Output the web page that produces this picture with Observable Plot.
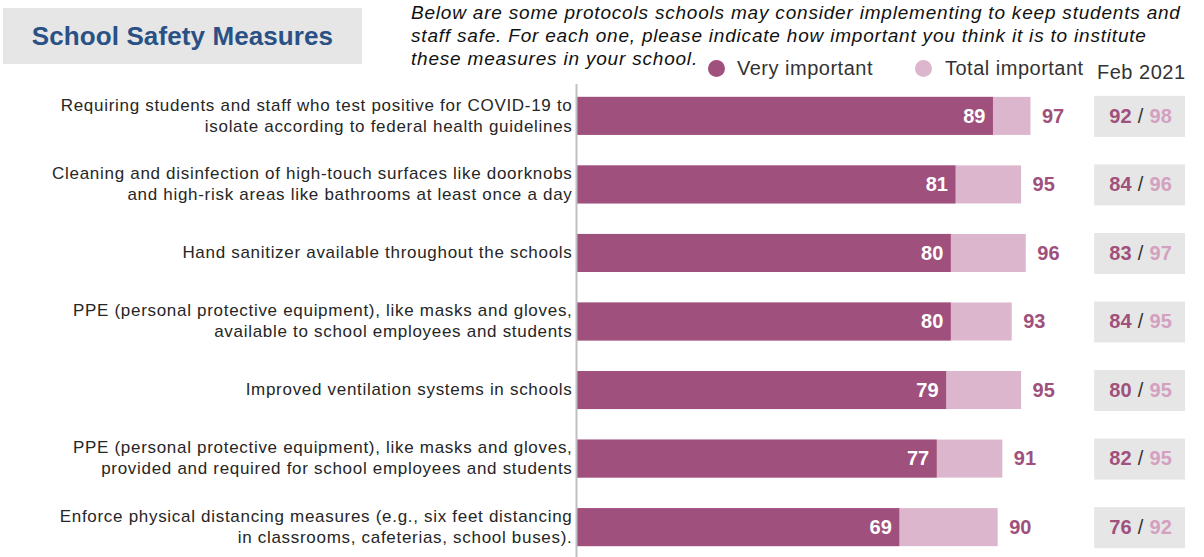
<!DOCTYPE html>
<html>
<head>
<meta charset="utf-8">
<script src="https://cdn.jsdelivr.net/npm/d3@7"></script>
<script src="https://cdn.jsdelivr.net/npm/@observablehq/plot@0.6"></script>
<style>
  html, body { margin: 0; padding: 0; background: #fff; }
  body { font-family: "Liberation Sans", Arial, sans-serif; }
  #wrap { position: relative; width: 1204px; height: 557px; overflow: hidden; }
  #chart { position: absolute; left: 0; top: 0; }
  .titlebox { position: absolute; left: 3px; top: 8px; width: 359px; height: 56px; background: #e6e6e6;
    display: flex; align-items: center; justify-content: center; }
  .titlebox span { font-weight: bold; font-size: 26px; letter-spacing: 0.1px; color: #2a5185; }
  .subtitle { position: absolute; left: 411px; top: 1px; width: 800px; font-style: italic; font-size: 19px;
    letter-spacing: 0.8px; line-height: 23px; color: #111; white-space: nowrap; }
  .leg { position: absolute; font-size: 20px; letter-spacing: 0.5px; color: #333; white-space: nowrap; }
  .dot { position: absolute; width: 17px; height: 17px; border-radius: 50%; }
</style>
</head>
<body>
<div id="wrap">
  <div id="chart"></div>
  <div class="titlebox"><span>School Safety Measures</span></div>
  <div class="subtitle">Below are some protocols schools may consider implementing to keep students and<br>staff safe. For each one, please indicate how important you think it is to institute<br>these measures in your school.</div>
  <div class="dot" style="left:708px;top:60px;background:#a0507c"></div>
  <div class="leg" style="left:737px;top:57px">Very important</div>
  <div class="dot" style="left:915px;top:60px;background:#dbb6cc"></div>
  <div class="leg" style="left:945px;top:57px">Total important</div>
  <div class="leg" style="left:1097px;top:61px">Feb 2021</div>
</div>
<script>
const categories = [
  "Requiring students and staff who test positive for COVID-19 to\nisolate according to federal health guidelines",
  "Cleaning and disinfection of high-touch surfaces like doorknobs\nand high-risk areas like bathrooms at least once a day",
  "Hand sanitizer available throughout the schools",
  "PPE (personal protective equipment), like masks and gloves,\navailable to school employees and students",
  "Improved ventilation systems in schools",
  "PPE (personal protective equipment), like masks and gloves,\nprovided and required for school employees and students",
  "Enforce physical distancing measures (e.g., six feet distancing\nin classrooms, cafeterias, school buses)."
];
const veryImportant = [89, 81, 80, 80, 79, 77, 69];
const totalImportant = [97, 95, 96, 93, 95, 91, 90];
const febVery = [92, 84, 83, 84, 80, 82, 76];
const febTotal = [98, 96, 97, 95, 95, 95, 92];

const DARK = "#a0507c", LIGHT = "#dbb6cc", FEBLIGHT = "#d3a1bf", BOX = "#e6e6e6";
const FEB_X1 = 110.6, FEB_X2 = 130, FEB_MID = 120.4;

const data = categories.map((label, i) => ({
  label, very: veryImportant[i], total: totalImportant[i], febV: febVery[i], febT: febTotal[i]
}));

const chart = Plot.plot({
  width: 1204,
  height: 557,
  marginLeft: 576,
  marginRight: 159.5,
  marginTop: 90,
  marginBottom: 4,
  style: { fontFamily: "'Liberation Sans', Arial, sans-serif", background: "transparent" },
  x: { domain: [0, 100], axis: null },
  y: { domain: categories, axis: null, paddingInner: 0.445, paddingOuter: 0.1, round: false },
  marks: [
    Plot.barX(data, { x: "total", y: "label", fill: LIGHT }),
    Plot.barX(data, { x: "very", y: "label", fill: DARK }),
    Plot.barX(data, { x1: () => FEB_X1, x2: () => FEB_X2, y: "label", fill: BOX, insetTop: -1, insetBottom: -2 }),
    Plot.ruleX([0], { stroke: "#c0c0c0", strokeWidth: 2, insetTop: -6, insetBottom: -6 }),
    Plot.text(data, { x: () => 0, y: "label", text: "label", textAnchor: "end", dx: -4, dy: -2,
      fontSize: 17, lineHeight: 1.24, fill: "#262626" }),
    Plot.text(data, { x: "very", y: "label", text: d => String(d.very), textAnchor: "end", dx: -8,
      fill: "white", fontWeight: "bold", fontSize: 20 }),
    Plot.text(data, { x: "total", y: "label", text: d => String(d.total), textAnchor: "start", dx: 11,
      fill: DARK, fontWeight: "bold", fontSize: 20 }),
    Plot.text(data, { x: () => FEB_MID, y: "label", text: () => "/", fill: "#333", fontSize: 20 }),
    Plot.text(data, { x: () => FEB_MID, y: "label", text: d => String(d.febV), textAnchor: "end", dx: -9,
      fill: DARK, fontWeight: "bold", fontSize: 20 }),
    Plot.text(data, { x: () => FEB_MID, y: "label", text: d => String(d.febT), textAnchor: "start", dx: 9,
      fill: FEBLIGHT, fontWeight: "bold", fontSize: 20 })
  ]
});
d3.select(chart).selectAll('g[aria-label="text"]').filter((d, i) => i === 0).style("letter-spacing", "0.7px");
document.getElementById("chart").appendChild(chart);
</script>
</body>
</html>
